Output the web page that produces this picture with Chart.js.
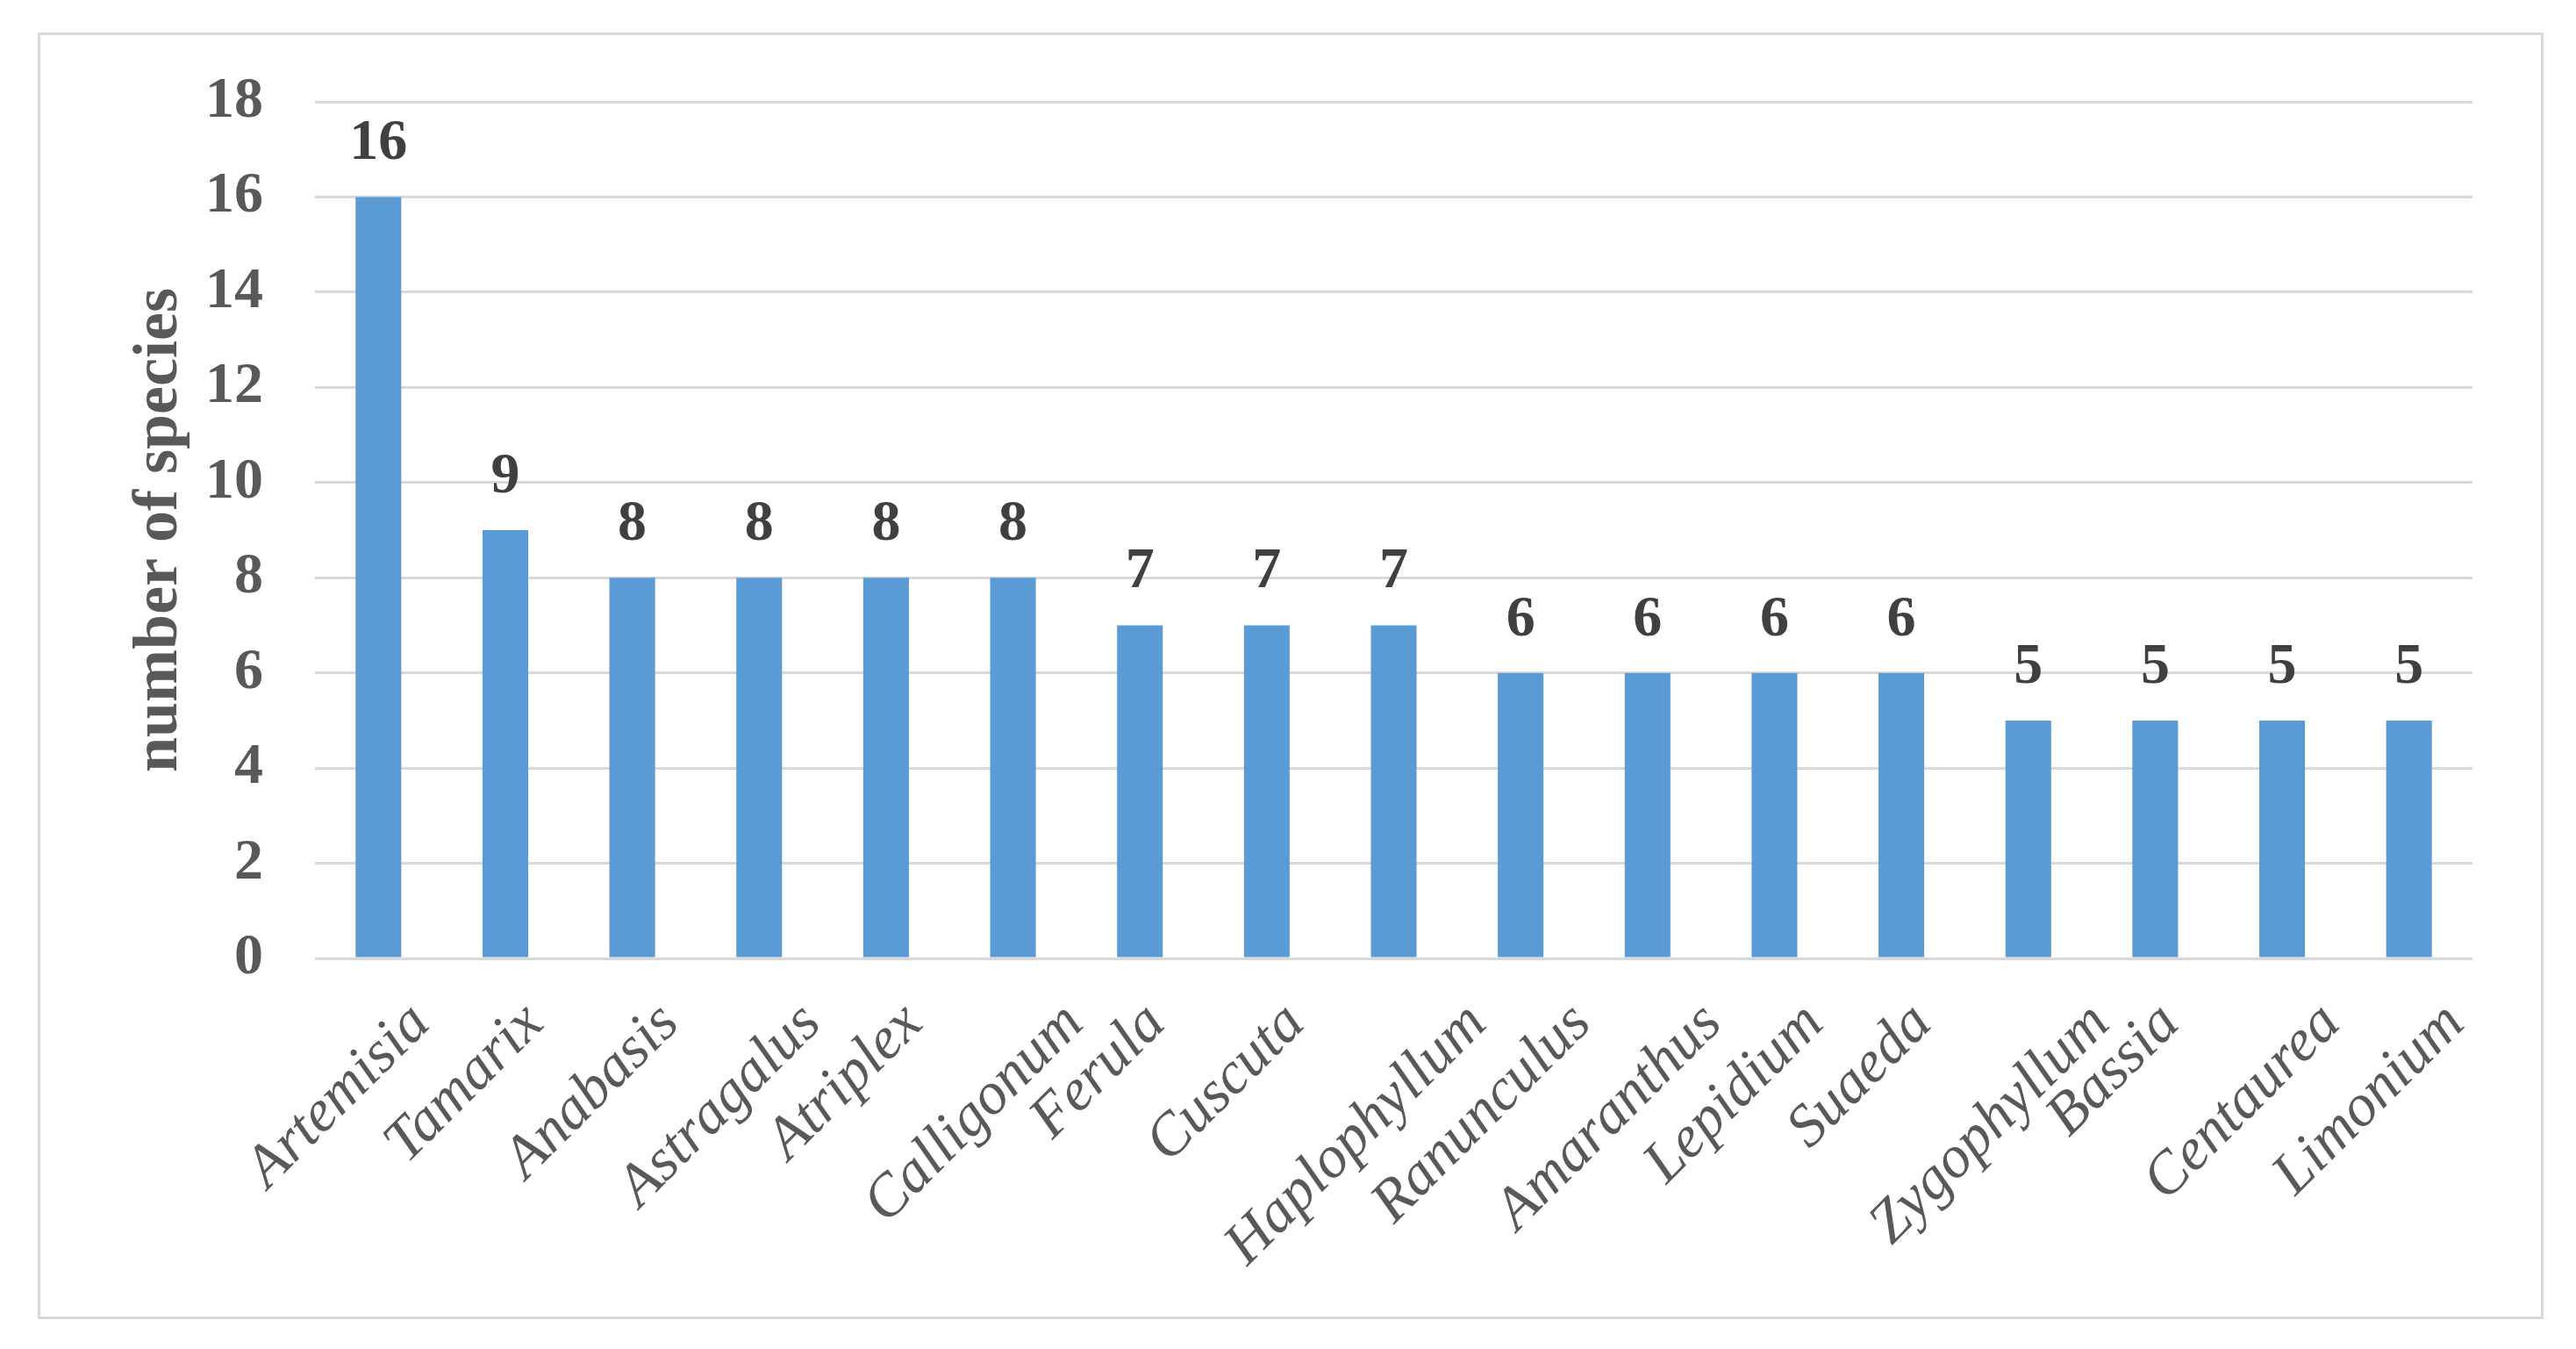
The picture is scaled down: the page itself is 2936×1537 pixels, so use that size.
<!DOCTYPE html>
<html lang="en">
<head>
    <meta charset="UTF-8">
    <title>Number of species per genus</title>
    <script src="https://cdn.jsdelivr.net/npm/chart.js@4"></script>
    <style>
        body {
            margin: 0;
            background: #ffffff;
        }
        .frame {
            position: absolute;
            left: 43px;
            top: 37px;
            width: 2850px;
            height: 1460px;
            border: 3px solid #d9d9d9; /* light outer frame like the office export */
        }
    </style>
</head>
<body>
<div class="frame">
    <canvas id="speciesChart" width="2850" height="1460"></canvas>
</div>

<script>
const genera = ['Artemisia', 'Tamarix', 'Anabasis', 'Astragalus', 'Atriplex', 'Calligonum', 'Ferula',
    'Cuscuta', 'Haplophyllum', 'Ranunculus', 'Amaranthus', 'Lepidium', 'Suaeda', 'Zygophyllum',
    'Bassia', 'Centaurea', 'Limonium'];
const speciesCount = [16, 9, 8, 8, 8, 8, 7, 7, 7, 6, 6, 6, 6, 5, 5, 5, 5];
const yTicks = [0, 2, 4, 6, 8, 10, 12, 14, 16, 18];

const serif = '"Liberation Serif", "Times New Roman", serif';
const xLabelFont = 'italic 68px ' + serif;

// value labels above each bar
const barValueLabels = {
    id: 'barValueLabels',
    afterDatasetsDraw(chart) {
        const ctx = chart.ctx;
        const meta = chart.getDatasetMeta(0);
        ctx.save();
        ctx.font = 'bold 66px ' + serif;
        ctx.fillStyle = '#404040';
        ctx.textAlign = 'center';
        ctx.textBaseline = 'alphabetic';
        meta.data.forEach((bar, i) => {
            ctx.fillText(String(speciesCount[i]), bar.x, bar.y - 43);
        });
        ctx.restore();
    }
};

// 45 degree category labels, centred on the tick the way Excel does it
const slantedCategoryLabels = {
    id: 'slantedCategoryLabels',
    afterDraw(chart) {
        const ctx = chart.ctx;
        const xScale = chart.scales.x;
        const top = chart.chartArea.bottom + 35;
        ctx.save();
        ctx.font = xLabelFont;
        ctx.fillStyle = '#595959';
        ctx.textAlign = 'right';
        ctx.textBaseline = 'middle';
        genera.forEach((name, i) => {
            const w = ctx.measureText(name).width;
            const x = xScale.getPixelForTick(i) - 80 + 0.377 * w;
            ctx.save();
            ctx.translate(x, top);
            ctx.rotate(-Math.PI / 4);
            ctx.fillText(name, 0, 40.8);
            ctx.restore();
        });
        ctx.restore();
    }
};

const ctx = document.getElementById('speciesChart').getContext('2d');
new Chart(ctx, {
    type: 'bar',
    data: {
        labels: genera,
        datasets: [{
            data: speciesCount,
            backgroundColor: '#5b9bd5',
            borderWidth: 0,
            barPercentage: 0.36,
            categoryPercentage: 1.0
        }]
    },
    options: {
        responsive: false,
        animation: false,
        devicePixelRatio: 1,
        layout: {
            padding: { top: 76, right: 78, left: 0, bottom: 0 }
        },
        plugins: {
            legend: { display: false },
            tooltip: { enabled: false }
        },
        scales: {
            x: {
                grid: { display: false },
                border: { display: false },
                ticks: { display: false },
                afterFit: scale => { scale.height = 408; }
            },
            y: {
                min: 0,
                max: 18,
                afterBuildTicks: scale => {
                    scale.ticks = yTicks.map(v => ({ value: v }));
                },
                grid: {
                    color: '#d9d9d9',
                    lineWidth: 3,
                    drawTicks: true,
                    tickLength: 59,  // invisible ticks give the label gap without extra top padding
                    tickColor: 'rgba(0,0,0,0)'
                },
                border: { display: false },
                ticks: {
                    padding: 0,
                    color: '#595959',
                    font: { family: serif, size: 66, weight: 'bold' }
                },
                title: {
                    display: true,
                    text: 'number of species',
                    color: '#595959',
                    font: { family: serif, size: 72, weight: 'bold' },
                    padding: { top: 93, bottom: 0 }
                },
                afterFit: scale => { scale.width = 313; }
            }
        }
    },
    plugins: [barValueLabels, slantedCategoryLabels]
});
</script>
</body>
</html>
